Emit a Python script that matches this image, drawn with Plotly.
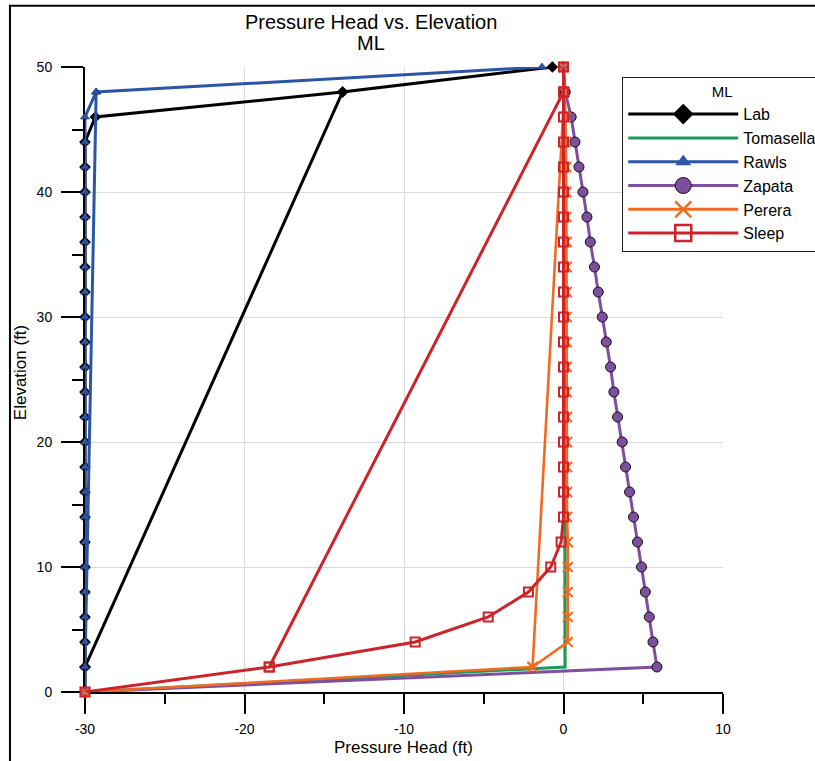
import plotly.graph_objects as go

# ---------------- data ----------------
elevation = [0, 2, 4, 6, 8, 10, 12, 14, 16, 18, 20, 22, 24, 26, 28, 30,
             32, 34, 36, 38, 40, 42, 44, 46, 48, 50]
# The spreadsheet ranges of most series re-list the 48 ft and 2 ft rows at the end,
# which draws the long diagonal link seen in the reference.
relisted_elev = [48, 2]

lab = [-30] * 23 + [-29.35, -13.85, -0.7]
tomasella = [-30] + [0.1] * 23 + [0.05, 0.0]
rawls = [-30] * 24 + [-29.3, -1.35]
zapata = [-30, 5.86, 5.61, 5.38, 5.13, 4.89, 4.64, 4.39, 4.14, 3.89, 3.68,
          3.39, 3.16, 2.95, 2.68, 2.43, 2.18, 1.94, 1.68, 1.47, 1.22, 0.97,
          0.72, 0.48, 0.11, 0.0]
perera = [-30, -1.94, 0.27, 0.27, 0.27, 0.27, 0.27, 0.22, 0.22, 0.22, 0.22,
          0.22, 0.2, 0.2, 0.2, 0.2, 0.2, 0.2, 0.2, 0.18, 0.18, 0.16, 0.15,
          0.12, 0.05, 0.0]
sleep = [-30, -18.45, -9.3, -4.72, -2.2, -0.8, -0.15, 0, 0, 0, 0, 0, 0, 0,
         0, 0, 0, 0, 0, 0, 0, 0, 0, 0, 0, 0]

series_names = ["Lab", "Tomasella", "Rawls", "Zapata", "Perera", "Sleep"]
series_values = [lab, tomasella, rawls, zapata, perera, sleep]
has_relisted_rows = [True, True, True, False, True, True]

x_ticks = [-30, -20, -10, 0, 10]
y_ticks = [0, 10, 20, 30, 40, 50]

# ---------------- styles ----------------
colors = {"Lab": "#000000", "Tomasella": "#1c9a5c", "Rawls": "#2b56a8",
          "Zapata": "#7e4f9f", "Perera": "#f26a22", "Sleep": "#cd2329"}
markers = {
    "Lab": dict(symbol="diamond", size=9, color="#000000"),
    "Tomasella": None,
    "Rawls": dict(symbol="triangle-up", size=8, color="#2b56a8",
                  line=dict(color="#1a2f60", width=0.6)),
    "Zapata": dict(symbol="circle", size=10, color="#7e4f9f",
                   line=dict(color="#111111", width=1)),
    "Perera": dict(symbol="x-thin-open", size=10, color="#f26a22",
                   line=dict(color="#f26a22", width=2)),
    "Sleep": dict(symbol="square-open", size=9, color="#cd2329",
                  line=dict(color="#cd2329", width=2)),
}
legend_markers = {
    "Lab": dict(symbol="diamond", size=16, color="#000000"),
    "Tomasella": None,
    "Rawls": dict(symbol="triangle-up", size=14, color="#2b56a8"),
    "Zapata": dict(symbol="circle", size=16, color="#7e4f9f",
                   line=dict(color="#111111", width=1)),
    "Perera": dict(symbol="x-thin-open", size=16, color="#f26a22",
                   line=dict(color="#f26a22", width=2.5)),
    "Sleep": dict(symbol="square-open", size=16, color="#cd2329",
                  line=dict(color="#cd2329", width=2.5)),
}

fig = go.Figure()
for name, vals, relist in zip(series_names, series_values, has_relisted_rows):
    xs = list(vals)
    ys = list(elevation)
    if relist:
        for e in relisted_elev:
            xs.append(vals[elevation.index(e)])
            ys.append(e)
    mk = markers[name]
    fig.add_trace(go.Scatter(
        x=xs, y=ys, name=name, showlegend=False, cliponaxis=False,
        mode="lines+markers" if mk else "lines",
        line=dict(color=colors[name], width=3 if name != "Perera" else 2.6),
        marker=mk if mk else None,
    ))

# legend entries (larger symbols, as in the reference legend)
for name in series_names:
    mk = legend_markers[name]
    fig.add_trace(go.Scatter(
        x=[None], y=[None], name=name, showlegend=True,
        mode="lines+markers" if mk else "lines",
        line=dict(color=colors[name], width=3),
        marker=mk if mk else None,
    ))

font_family = "Liberation Sans, Arial, sans-serif"
L, R, T, B = 85, 92.3, 67.3, 68.7
W, H = 815, 761
pw, ph = W - L - R, H - T - B


def px_x(p):
    return (p - L) / pw


def px_y(p):
    return (H - B - p) / ph


fig.update_layout(
    width=W, height=H,
    margin=dict(l=L, r=R, t=T, b=B, autoexpand=False),
    paper_bgcolor="white", plot_bgcolor="white",
    font=dict(family=font_family, color="black"),
    showlegend=True,
    legend=dict(
        x=px_x(622), y=px_y(77), xanchor="left", yanchor="top",
        bordercolor="#222222", borderwidth=1, bgcolor="white",
        font=dict(size=16, family=font_family),
        itemwidth=110, itemsizing="trace",
        title=dict(text="ML", side="top center", font=dict(size=15)),
    ),
    xaxis=dict(
        range=[-30, 10], tickvals=x_ticks, ticktext=[str(v) for v in x_ticks],
        showgrid=True, gridcolor="#d9d9d9", gridwidth=1, zeroline=False,
        showline=True, linecolor="black", linewidth=2,
        ticks="outside", ticklen=20, tickwidth=2, tickcolor="black",
        tickfont=dict(size=14), layer="below traces", ticklabelstandoff=3,
        minor=dict(dtick=5, tick0=0, ticks="outside", ticklen=10,
                   tickwidth=2, tickcolor="black", showgrid=False),
    ),
    yaxis=dict(
        range=[0, 50], tickvals=y_ticks, ticktext=[str(v) for v in y_ticks],
        showgrid=True, gridcolor="#d9d9d9", gridwidth=1, zeroline=False,
        showline=True, linecolor="black", linewidth=2,
        ticks="outside", ticklen=22, tickwidth=2, tickcolor="black",
        tickfont=dict(size=14), layer="below traces", ticklabelstandoff=6,
        minor=dict(dtick=5, tick0=0, ticks="outside", ticklen=11,
                   tickwidth=2, tickcolor="black", showgrid=False),
    ),
    annotations=[
        dict(text="Pressure Head vs. Elevation", xref="paper", yref="paper",
             x=px_x(371), y=px_y(22), xanchor="center", yanchor="middle",
             showarrow=False, font=dict(size=20)),
        dict(text="ML", xref="paper", yref="paper",
             x=px_x(371), y=px_y(43.5), xanchor="center", yanchor="middle",
             showarrow=False, font=dict(size=20)),
        dict(text="Pressure Head (ft)", xref="paper", yref="paper",
             x=px_x(403.5), y=px_y(747.5), xanchor="center", yanchor="middle",
             showarrow=False, font=dict(size=17)),
        dict(text="Elevation (ft)", xref="paper", yref="paper",
             x=px_x(20.5), y=px_y(373), xanchor="center", yanchor="middle",
             textangle=-90, showarrow=False, font=dict(size=17)),
    ],
    shapes=[
        dict(type="rect", xref="paper", yref="paper",
             x0=px_x(10), x1=px_x(900), y0=px_y(900), y1=px_y(6),
             line=dict(color="black", width=2), fillcolor="rgba(0,0,0,0)",
             layer="above"),
    ],
)

fig.write_html("out.html",
               config={"displayModeBar": False},
               post_script="document.body.style.margin='0px';"
                           "document.body.style.overflow='hidden';")
